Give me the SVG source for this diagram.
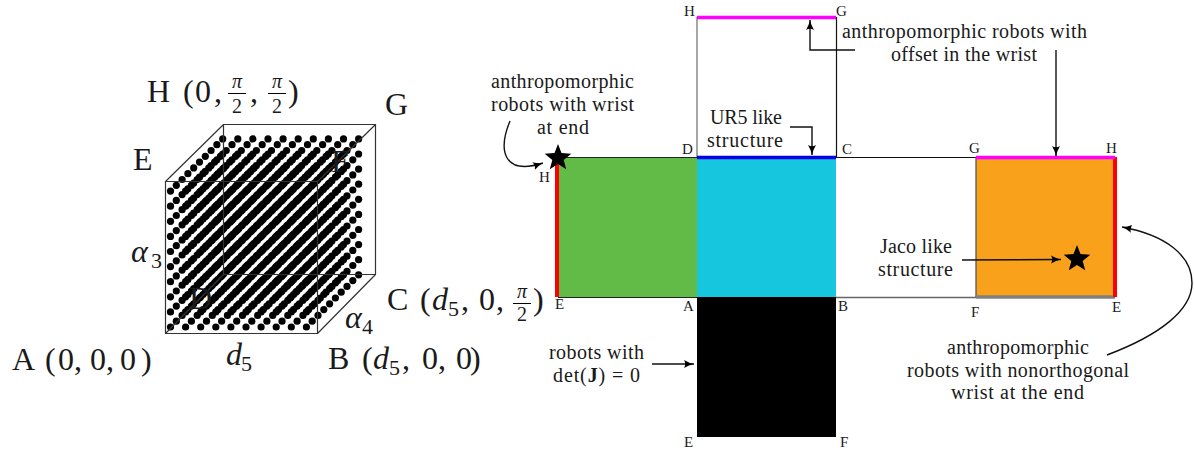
<svg xmlns="http://www.w3.org/2000/svg" xmlns:xlink="http://www.w3.org/1999/xlink" width="1194" height="450" viewBox="0 0 1194 450">
<style>
text{font-family:"Liberation Serif","Times New Roman",serif;fill:#1a1a1a}
.big{font-size:32px}
.i{font-style:italic}
.sub{font-size:22px}
.fr{font-size:20px;text-anchor:middle}
.lab{font-size:20px}
.sm{font-size:15px}
.edge{fill:none;stroke:#333;stroke-width:1.2}
.bar{stroke-width:1;stroke:#000}
.con{fill:none;stroke:#111;stroke-width:1.4}
.arr{marker-end:url(#ah)}
</style>
<defs>
<marker id="ah" markerUnits="userSpaceOnUse" markerWidth="12" markerHeight="10" refX="10" refY="5" orient="auto"><path d="M0,1 Q5,4 10,5 Q5,6 0,9 Q2.5,5 0,1Z" fill="#000"/></marker>
<path id="star" d="M0,-14 L3.5,-4.9 13.3,-4.3 5.7,1.9 8.2,11.3 0,6 -8.2,11.3 -5.7,1.9 -13.3,-4.3 -3.5,-4.9Z" fill="#000"/>
<circle id="d" r="3.6" fill="#000"/>
<g id="row"><use href="#d" x="0"/><use href="#d" x="15.1"/><use href="#d" x="30.2"/><use href="#d" x="45.3"/><use href="#d" x="60.4"/><use href="#d" x="75.5"/><use href="#d" x="90.6"/><use href="#d" x="105.7"/><use href="#d" x="120.8"/><use href="#d" x="135.9"/></g>
<g id="plane"><use href="#row" y="0"/><use href="#row" y="-15.1"/><use href="#row" y="-30.2"/><use href="#row" y="-45.3"/><use href="#row" y="-60.4"/><use href="#row" y="-75.5"/><use href="#row" y="-90.6"/><use href="#row" y="-105.7"/><use href="#row" y="-120.8"/><use href="#row" y="-135.9"/></g>
</defs>
<rect width="1194" height="450" fill="#fff"/>

<g id="cube">
<g transform="translate(170.5,327)">
<use href="#plane"/><use href="#plane" x="5.8" y="-5.8"/><use href="#plane" x="11.6" y="-11.6"/><use href="#plane" x="17.4" y="-17.4"/><use href="#plane" x="23.2" y="-23.2"/><use href="#plane" x="29" y="-29"/><use href="#plane" x="34.8" y="-34.8"/><use href="#plane" x="40.6" y="-40.6"/><use href="#plane" x="46.4" y="-46.4"/><use href="#plane" x="52.2" y="-52.2"/>
</g>
<path class="edge" d="M165.5,181.5H317.5V333.5H165.5ZM223.5,124.5H375.5V274.5H223.5ZM165.5,181.5L223.5,124.5M317.5,181.5L375.5,124.5M317.5,333.5L375.5,274.5M165.5,333.5L223.5,274.5"/>
<text class="big" x="147" y="102">H</text>
<text class="big" x="183 195 214" y="102">(0,</text>
<text class="fr i" x="237" y="88">π</text><path class="bar" d="M228,93.5H246"/><text class="fr" x="237" y="113">2</text>
<text class="big" x="250" y="102">,</text>
<text class="fr i" x="277" y="88">π</text><path class="bar" d="M268,93.5H286"/><text class="fr" x="277" y="113">2</text>
<text class="big" x="288" y="102">)</text>
<text class="big" x="385" y="115">G</text>
<text class="big" x="133" y="170">E</text>
<text class="big" x="331" y="172">F</text>
<text class="big" x="189" y="309">D</text>
<text class="big i" x="131" y="262">α</text><text class="sub" x="151" y="268">3</text>
<text class="big i" x="345" y="328">α</text><text class="sub" x="362" y="334">4</text>
<text class="big i" x="226" y="365">d</text><text class="sub" x="241" y="371">5</text>
<text class="big" x="12 45 58 74 90 106 120 141" y="370">A(0,0,0)</text>
<text class="big" x="328 362" y="369">B(</text><text class="big i" x="373" y="369">d</text><text class="sub" x="389" y="375">5</text><text class="big" x="402 422 438 456 470" y="369">,0,0)</text>
<text class="big" x="387 420" y="310">C(</text><text class="big i" x="432" y="310">d</text><text class="sub" x="448" y="316">5</text><text class="big" x="461 479 496" y="310">,0,</text>
<text class="fr i" x="522" y="298">π</text><path class="bar" d="M513,303.5H531"/><text class="fr" x="522" y="321">2</text>
<text class="big" x="533" y="310">)</text>
</g>

<g id="face-left"><rect x="558" y="157" width="139" height="140" fill="#62bb46"/><path d="M558,157.5H697M558,297.5H697" stroke="#222" stroke-width="1.2"/></g>
<g id="face-center"><rect x="697" y="157" width="139" height="140" fill="#16c6de"/></g>
<g id="face-top"><path d="M697,17V157" stroke="#777" stroke-width="1.3"/><path d="M836.5,17V157" stroke="#111" stroke-width="1.2"/><path d="M697,17.5H836" stroke="#ff00ff" stroke-width="3.5"/></g>
<g id="face-bottom"><rect x="697" y="297" width="139" height="140" fill="#000"/></g>
<g id="face-white"><path d="M836,157.5H976" stroke="#111" stroke-width="1.2"/><path d="M836,297.5H976" stroke="#666" stroke-width="1.3"/></g>
<g id="face-right"><rect x="976" y="157" width="139" height="140" fill="#f9a11b"/><path d="M976,157V297" stroke="#555" stroke-width="1.3"/><path d="M976,297H1115" stroke="#808080" stroke-width="3.5"/><path d="M1115,157V297" stroke="#ff0000" stroke-width="4"/><path d="M976,157.5H1115" stroke="#ff00ff" stroke-width="3.5"/></g>
<path d="M697,157.5H836" stroke="#0000e0" stroke-width="3.5"/>
<path d="M557,160V297" stroke="#ff0000" stroke-width="4"/>
<use href="#star" x="558" y="158"/>
<use href="#star" x="1077" y="259"/>

<g id="connectors">
<path class="con arr" d="M510,121C498,150 503,176 543,163"/>
<path class="con arr" d="M855,50H810V20"/>
<path class="con arr" d="M790,127H812V155"/>
<path class="con arr" d="M1056,50V156"/>
<path class="con arr" d="M962,260L1061,259.5"/>
<path class="con arr" d="M1107,355C1160,335 1192,310 1192,283C1192,255 1165,235 1122,227"/>
<path class="con arr" d="M652,364H694"/>
</g>

<g id="labels">
<text class="lab" x="491" y="88" textLength="143">anthropomorphic</text>
<text class="lab" x="491" y="111" textLength="143">robots with wrist</text>
<text class="lab" x="537" y="134" textLength="52">at end</text>
<text class="lab" x="710" y="124" textLength="72">UR5 like</text>
<text class="lab" x="707" y="147" textLength="76">structure</text>
<text class="lab" x="842" y="38" textLength="245">anthropomorphic robots with</text>
<text class="lab" x="891" y="61" textLength="146">offset in the wrist</text>
<text class="lab" x="880" y="253" textLength="72">Jaco like</text>
<text class="lab" x="878" y="276" textLength="75">structure</text>
<text class="lab" x="947" y="354" textLength="142">anthropomorphic</text>
<text class="lab" x="907" y="377" textLength="222">robots with nonorthogonal</text>
<text class="lab" x="951" y="399" textLength="133">wrist at the end</text>
<text class="lab" x="549" y="359" textLength="95">robots with</text>
<text class="lab" x="553" y="382" textLength="87">det(<tspan font-weight="bold">J</tspan>) = 0</text>
<text class="sm" x="684" y="16">H</text>
<text class="sm" x="836" y="16">G</text>
<text class="sm" x="682" y="154">D</text>
<text class="sm" x="842" y="154">C</text>
<text class="sm" x="539" y="182">H</text>
<text class="sm" x="969" y="153">G</text>
<text class="sm" x="1106" y="153">H</text>
<text class="sm" x="838" y="311">B</text>
<text class="sm" x="971" y="317">F</text>
<text class="sm" x="1112" y="312">E</text>
<text class="sm" x="555" y="309">E</text>
<text class="sm" x="683" y="311">A</text>
<text class="sm" x="684" y="447">E</text>
<text class="sm" x="840" y="447">F</text>
</g>
</svg>
